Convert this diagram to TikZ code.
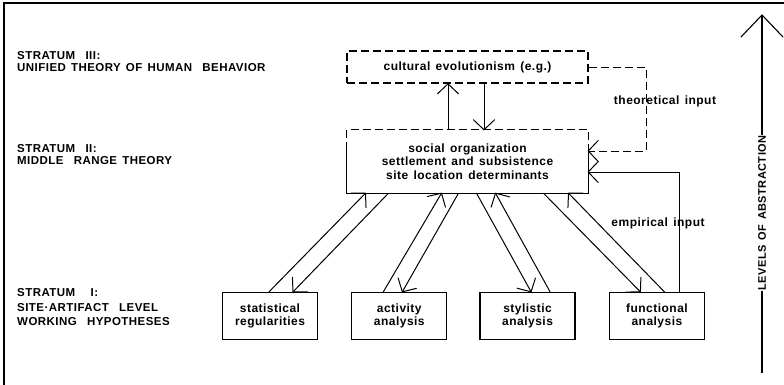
\documentclass[tikz,border=0pt]{standalone}
\usepackage{fontspec}
\setmainfont{Liberation Sans}[LetterSpace=4,WordSpace=1.4]
\usetikzlibrary{positioning,arrows.meta}
% open V tip
\pgfdeclarearrow{
  name = Vee,
  defaults = {length = 10pt, width = 21pt},
  parameters = {\the\pgfarrowlength,\the\pgfarrowwidth},
  setup code = {
    \pgfarrowssettipend{0pt}
    \pgfarrowssetlineend{-0.5pt}
    \pgfarrowsupperhullpoint{-\pgfarrowlength}{.5\pgfarrowwidth}
    \pgfarrowsupperhullpoint{0pt}{0pt}
    \pgfarrowssavethe\pgfarrowlength
    \pgfarrowssavethe\pgfarrowwidth
  },
  drawing code = {
    \pgfsetdash{}{0pt}
    \pgfsetroundcap
    \pgfsetroundjoin
    \pgfpathmoveto{\pgfqpoint{-\pgfarrowlength}{.5\pgfarrowwidth}}
    \pgfpathlineto{\pgfpointorigin}
    \pgfpathlineto{\pgfqpoint{-\pgfarrowlength}{-.5\pgfarrowwidth}}
    \pgfusepathqstroke
  }
}
\tikzstyle{abox} = [draw, line width=1.3pt, rectangle, minimum width=95pt,
    minimum height=47pt, align=center, inner sep=2pt,
    font=\bfseries\fontsize{12}{13}\selectfont]
\tikzstyle{dbox} = [abox, dash pattern=on 8pt off 4pt, minimum width=241pt,
    minimum height=32pt]
\tikzstyle{midbox} = [rectangle, minimum width=241pt, minimum height=63pt,
    align=center, inner sep=2pt, font=\bfseries\fontsize{12}{13.5}\selectfont]
\tikzstyle{boxline} = [line width=1.3pt]
\tikzstyle{stratum} = [anchor=west, align=left, inner sep=0pt,
    font=\bfseries\fontsize{11.5}{12}\selectfont]
\tikzstyle{lbl} = [inner sep=1pt, font=\bfseries\fontsize{12}{13}\selectfont]
\tikzstyle{arr} = [line width=1pt, -{Vee[length=10pt,width=21pt]}]
\tikzstyle{dasharr} = [arr, dash pattern=on 8pt off 4pt]
\tikzstyle{bigarr} = [line width=1.1pt, -{Vee[length=22pt,width=42pt]}]

\begin{document}
\begin{tikzpicture}[x=1pt,y=1pt]
\useasboundingbox (0,0) rectangle (784,-385);
\draw [line width=2.5pt] (4,-385) -- (4,-3) -- (784,-3);

% strata
\node [stratum] (s3) at (17,-62) {STRATUM\ \ III:\\UNIFIED THEORY OF HUMAN\ \ BEHAVIOR};
\node [stratum] (s2) at (17,-155) {STRATUM\ \ II:\\MIDDLE\ \ RANGE THEORY};
\node [stratum, font=\bfseries\fontsize{11.5}{14.5}\selectfont] (s1) at (17,-307.5)
    {STRATUM\ \ \ I:\\SITE·ARTIFACT\ \ LEVEL\\WORKING\ \ HYPOTHESES};

% boxes
\node [midbox] (soc) at (467.5,-161.5)
    {social organization\\settlement and subsistence\\site location determinants};
\draw [boxline, dash pattern=on 8pt off 4pt] ([yshift=-20pt]soc.north west)
    -- (soc.north west) -- (soc.north east) -- ([yshift=-20pt]soc.north east);
\draw [boxline] ([yshift=-20pt]soc.north west) -- (soc.south west)
    -- (soc.south east) -- ([yshift=-20pt]soc.north east);
\node [dbox, above=46pt of soc] (cult) {cultural evolutionism (e.g.)};

\node [abox] (stat) at (270,-316) {statistical\\regularities};
\node [abox, right=33pt of stat] (act) {activity\\analysis};
\node [abox, right=32pt of act] (sty) {stylistic\\analysis};
\node [abox, right=33pt of sty] (fun) {functional\\analysis};

% up and down
\draw [arr] ([xshift=-19.5pt]soc.north) -- ([xshift=-19.5pt]cult.south);
\draw [arr] ([xshift=16.5pt]cult.south) -- ([xshift=16.5pt]soc.north);

\draw [arr] ([xshift=-1pt]stat.north) -- ([xshift=-102pt]soc.south);
\draw [arr] ([xshift=-79pt]soc.south) -- ([xshift=23pt]stat.north);
\draw [arr] ([xshift=-16pt]act.north) -- ([xshift=-26pt]soc.south);
\draw [arr] ([xshift=-9pt]soc.south) -- ([xshift=3pt]act.north);
\draw [arr] ([xshift=9pt]soc.south) -- ([xshift=3.5pt]sty.north);
\draw [arr] ([xshift=22.5pt]sty.north) -- ([xshift=28pt]soc.south);
\draw [arr] ([xshift=76pt]soc.south) -- ([xshift=-16.5pt]fun.north);
\draw [arr] ([xshift=7.5pt]fun.north) -- ([xshift=101pt]soc.south);

% inputs
\coordinate (tcorner) at (646,-151);
\draw [dasharr] (cult.east) -| (tcorner) -- ([yshift=10.5pt]soc.east);
\node [lbl] (theo) at (665,-101) {theoretical input};
\draw [arr] ([xshift=22.5pt]fun.north) |- ([yshift=-10.5pt]soc.east);
\node [lbl] (emp) at (658,-223) {empirical input};

% levels
\coordinate (lbot) at (762,-373);
\coordinate (ltop) at (762,-15);
\draw [bigarr] (lbot) -- (ltop);
\node [fill=white, rotate=90, inner xsep=1pt, inner ysep=0pt,
    font=\bfseries\fontsize{11}{12}\selectfont] (lev) at (762,-213) {LEVELS OF ABSTRACTION};

\end{tikzpicture}
\end{document}
